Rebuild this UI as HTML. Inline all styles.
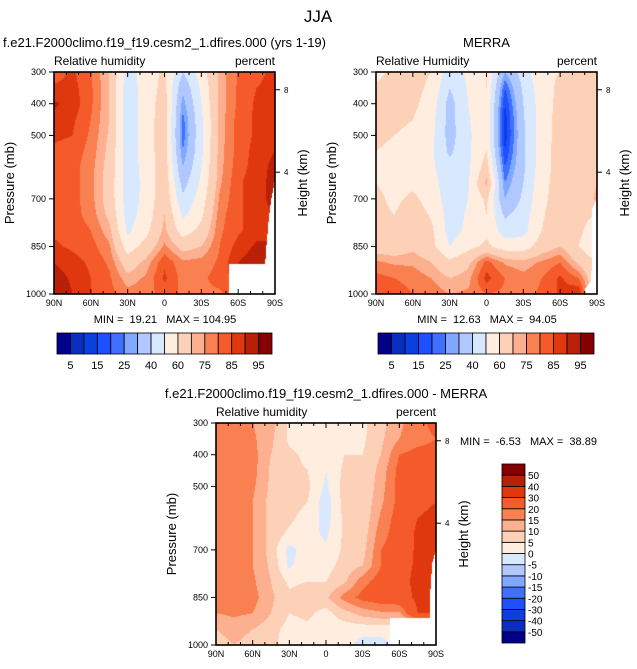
<!DOCTYPE html>
<html><head><meta charset="utf-8">
<style>
html,body{margin:0;padding:0;background:#fff;}
#wrap{position:relative;width:637px;height:669px;overflow:hidden;font-family:"Liberation Sans",sans-serif;}
canvas{position:absolute;}
svg{position:absolute;left:0;top:0;}
svg text{white-space:pre;}
</style></head>
<body>
<div id="wrap">
<canvas id="c1" width="221" height="222" style="left:54px;top:72px"></canvas>
<canvas id="c2" width="221" height="222" style="left:376px;top:72px"></canvas>
<canvas id="c3" width="220" height="222" style="left:216px;top:423px"></canvas>
<svg id="ov" width="637" height="669"></svg>
</div>
<script>
// ---- data ----
const lats = [90,75,60,45,30,15,0,-15,-30,-45,-60,-75,-90];
const pressures = [300,350,400,450,500,550,600,650,700,750,800,850,900,950,1000];
const rhLevels = [5,10,15,20,25,30,40,50,60,70,75,80,85,90,95];
const rhLabels = ["5","15","25","40","60","75","85","95"];
const diffLevels = [-50,-40,-30,-20,-15,-10,-5,0,5,10,15,20,30,40,50];
const diffLabels = ["-50","-40","-30","-20","-15","-10","-5","0","5","10","15","20","30","40","50"];
const palette = ["#00008a","#0a2ebf","#0a40e0","#1e50ff","#4070ff","#80a8ff","#b0c8ff","#d8e8ff","#ffeee0","#fdd0b8","#fcb090","#f98050","#f55a2a","#e0380e","#b82008","#870000"];
const modelRH = [
[82,86,80,70,45,55,62,40,55,72,80,84,86],
[86,87,81,70,44,55,63,32,52,72,81,85,86],
[91,88,81,70,44,55,65,27,50,72,81,86,86],
[88,86,80,70,44,55,66,23,48,72,82,86,87],
[86,85,79,69,44,55,66,22,48,72,82,86,88],
[84,83,78,68,44,55,66,25,48,73,82,87,90],
[82,82,77,67,44,54,66,30,50,73,83,87,92],
[82,82,77,66,44,53,67,36,52,74,84,88,92],
[83,82,77,66,45,53,68,42,55,76,84,88,92],
[83,82,78,68,46,54,70,48,58,78,84,88,90],
[84,83,80,72,48,57,72,55,63,79,84,88,90],
[86,84,82,76,55,64,76,67,70,80,87,91,90],
[90,87,84,79,65,72,84,76,77,81,90,93,92],
[93,89,85,81,72,76,86,78,79,82,88,90,90],
[95,90,85,82,77,78,82,79,79,79,84,86,86]];
const merraRH = [
[58,62,63,60,45,52,60,30,45,58,60,62,60],
[61,62,63,58,40,51,60,20,42,56,62,63,62],
[63,63,62,56,36,50,59,15,40,55,63,64,64],
[63,62,60,54,36,49,58,12,39,55,64,64,64],
[62,60,58,53,36,48,58,12,38,55,64,64,64],
[60,58,57,52,38,48,60,15,38,56,64,63,66],
[58,57,56,52,43,48,65,20,38,56,64,63,68],
[60,57,58,54,44,49,72,25,40,57,64,62,70],
[62,58,62,56,45,50,62,30,42,58,64,62,72],
[62,60,65,59,46,51,60,38,45,59,65,62,60],
[63,62,67,62,46,52,58,45,47,60,65,62,55],
[65,64,68,63,50,57,62,55,55,65,70,60,50],
[76,74,74,70,62,68,82,74,72,76,80,68,60],
[82,80,78,75,70,73,87,80,77,80,86,80,60],
[84,83,80,78,75,76,80,79,78,81,86,90,60]];
const diffRH = [
[18,17,15,12,4,3,2,3,4,8,14,18,22],
[18,18,16,11,4,3,2,4,4,9,15,18,20],
[18,18,17,10,6,4,1,5,5,10,20,22,22],
[17,17,17,9,6,5,0,6,5,12,22,23,22],
[17,17,16,9,7,6,-1,7,5,13,22,23,24],
[17,17,15,8,7,5,-3,7,6,14,22,25,30],
[17,17,15,8,6,3,-2,6,6,16,23,30,35],
[18,17,15,8,4,2,-1,6,7,18,23,32,35],
[18,17,15,8,-2,3,1,6,8,20,23,32,35],
[18,17,15,9,-1,4,3,7,10,20,25,32,34],
[18,17,16,10,4,5,5,9,18,23,26,33,33],
[18,17,17,11,6,8,9,17,22,24,25,32,32],
[15,16,15,10,5,6,3,8,12,14,14,30,30],
[10,12,10,7,3,4,3,2,2,2,2,2,2],
[8,10,8,6,3,3,3,2,-2,-2,2,2,2]];
const modelMissing = [[-52.5,1000],[-52.5,905],[-82,905],[-83,850],[-85,760],[-87,700],[-90,640],[-90,1000]];
const merraMissing = [[-80,1000],[-80,985],[-85,960],[-86,900],[-86,730],[-90,700],[-90,1000]];
const diffMissing = [[-52,1000],[-52,915],[-85,915],[-85,850],[-87,740],[-90,700],[-90,1000]];

// ---- helpers ----
function sample(grid, lat, p){
  let fc=(90-lat)/15, fr=(p-300)/50;
  let c0=Math.min(Math.floor(fc),lats.length-2), r0=Math.min(Math.floor(fr),pressures.length-2);
  let tc=fc-c0, tr=fr-r0;
  let a=grid[r0][c0],b=grid[r0][c0+1],c=grid[r0+1][c0],d=grid[r0+1][c0+1];
  return (a*(1-tc)+b*tc)*(1-tr)+(c*(1-tc)+d*tc)*tr;
}
function inPoly(poly,x,y){
  let ins=false;
  for(let i=0,j=poly.length-1;i<poly.length;j=i++){
    let xi=poly[i][0],yi=poly[i][1],xj=poly[j][0],yj=poly[j][1];
    if(((yi>y)!=(yj>y))&&(x<(xj-xi)*(y-yi)/(yj-yi)+xi)) ins=!ins;
  }
  return ins;
}
function levelIndex(levels,v){let k=0;while(k<levels.length&&v>=levels[k])k++;return k;}
function hex(h){return [parseInt(h.substr(1,2),16),parseInt(h.substr(3,2),16),parseInt(h.substr(5,2),16)];}
const rgb = palette.map(hex);
function drawField(id,grid,levels,mask){
  const cv=document.getElementById(id),ctx=cv.getContext('2d');
  const w=cv.width,h=cv.height,img=ctx.createImageData(w,h);
  for(let y=0;y<h;y++)for(let x=0;x<w;x++){
    const lat=90-180*(x+0.5)/w, p=300+700*(y+0.5)/h;
    let col=[255,255,255];
    if(!inPoly(mask,lat,p)) col=rgb[levelIndex(levels,sample(grid,lat,p))];
    const o=(y*w+x)*4;img.data[o]=col[0];img.data[o+1]=col[1];img.data[o+2]=col[2];img.data[o+3]=255;
  }
  ctx.putImageData(img,0,0);
}
const NS="http://www.w3.org/2000/svg", svg=document.getElementById('ov');
function el(tag,attrs,txt){const e=document.createElementNS(NS,tag);for(const k in attrs)e.setAttribute(k,attrs[k]);if(txt!==undefined)e.textContent=txt;svg.appendChild(e);return e;}
function text(x,y,s,size,anchor,name,rot){
  const t=el('text',{x:x,y:y,'font-size':size,'text-anchor':anchor||'middle','font-family':'Liberation Sans, sans-serif',fill:'#000'},s);
  if(rot)t.setAttribute('transform','rotate(-90 '+x+' '+y+')');
  
  
  return t;
}
const latTicks=["90N","60N","30N","0","30S","60S","90S"];
const pTicks=[300,400,500,700,850,1000];
const hTicks=[{km:8,p:356},{km:4,p:616}];
function axes(x0,y0,w,h,pfx,title,sub){
  const xs=lat=>x0+(90-lat)/180*w, ys=p=>y0+(p-300)/700*h;
  const r=el('rect',{x:x0,y:y0,width:w,height:h,fill:'none',stroke:'#000','stroke-width':1.6});
  
  
  for(let lat=90;lat>=-90;lat-=10){
    const major=lat%30===0, L=major?5:3, x=xs(lat);
    const t1=el('line',{x1:x,y1:y0,x2:x,y2:y0+L,stroke:'#000','stroke-width':1});
    
    
    const t2=el('line',{x1:x,y1:y0+h,x2:x,y2:y0+h-L,stroke:'#000','stroke-width':1});
    
    
  }
  latTicks.forEach((s,i)=>text(xs(90-30*i),y0+h+12,s,9,'middle',pfx+'-x-tick-label'));
  pTicks.forEach(p=>{
    const y=ys(p);
    const l=el('line',{x1:x0-5,y1:y,x2:x0,y2:y,stroke:'#000','stroke-width':1});
    
    
    text(x0-8,y+3,String(p),9,'end',pfx+'-y-tick-label');
  });
  hTicks.forEach(o=>{
    const y=ys(o.p);
    const l=el('line',{x1:x0+w,y1:y,x2:x0+w+5,y2:y,stroke:'#000','stroke-width':1});
    
    
    text(x0+w+9,y+3,String(o.km),8,'start',pfx+'-height-tick-label');
  });
  text(x0+w/2,y0-25,title,13,'middle',pfx+'-title');
  text(x0,y0-7,sub,12,'start',pfx+'-variable-label');
  text(x0+w,y0-7,'percent',12,'end',pfx+'-units-label');
  text(x0-40,y0+h/2,'Pressure (mb)',13,'middle',pfx+'-y-axis-title',true);
  text(x0+w+32,y0+h/2,'Height (km)',13,'middle',pfx+'-height-axis-title',true);
}
function hbar(x0,y0,w,h,labels,pfx){
  const bw=w/16;
  for(let i=0;i<16;i++){
    const r=el('rect',{x:x0+i*bw,y:y0,width:bw,height:h,fill:palette[i],stroke:'#000','stroke-width':0.8});
    
    
  }
  labels.forEach((s,i)=>text(x0+(1+2*i)*bw,y0+h+15,s,11,'middle',pfx+'-colorbar-label'));
}

drawField('c1',modelRH,rhLevels,modelMissing);
drawField('c2',merraRH,rhLevels,merraMissing);
drawField('c3',diffRH,diffLevels,diffMissing);

text(318,22,'JJA',17,'middle','figure-title');
axes(54,72,221,222,'model','f.e21.F2000climo.f19_f19.cesm2_1.dfires.000 (yrs 1-19)','Relative humidity');
axes(376,72,221,222,'merra','MERRA','Relative Humidity');
axes(216,423,220,222,'diff','f.e21.F2000climo.f19_f19.cesm2_1.dfires.000 - MERRA','Relative humidity');
text(165,323,'MIN =  19.21   MAX = 104.95',11,'middle','model-min-max');
text(487,323,'MIN =  12.63   MAX =  94.05',11,'middle','merra-min-max');
text(460,445,'MIN =  -6.53   MAX =  38.89',11,'start','diff-min-max');
hbar(57,333,215,21,rhLabels,'model');
hbar(378,333,216,21,rhLabels,'merra');
// vertical colorbar
(function(){
  const x0=502,y0=464,w=23,h=179,bh=h/16;
  for(let i=0;i<16;i++){
    const r=el('rect',{x:x0,y:y0+(15-i)*bh,width:w,height:bh,fill:palette[i],stroke:'#000','stroke-width':0.8});
    
    
  }
  diffLabels.forEach((s,i)=>text(x0+w+3,y0+(15-i)*bh+4,s,10,'start','diff-colorbar-label'));
})();
</script>
</body></html>
